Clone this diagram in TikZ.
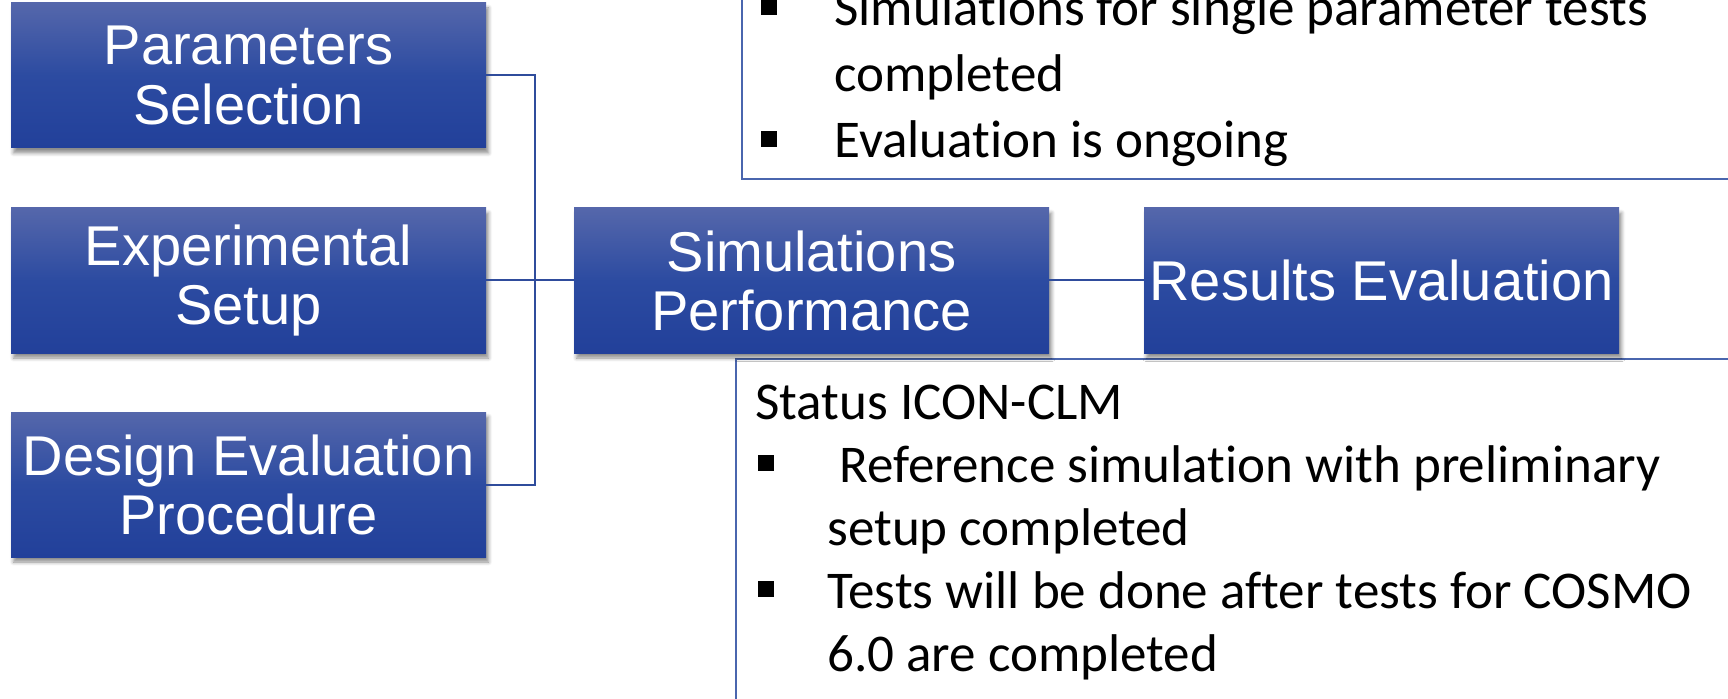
\documentclass[tikz,border=0pt]{standalone}
\usepackage{fontspec}
\setmainfont{Liberation Sans}
\newfontfamily\calibrifont[Ligatures={NoCommon}]{Carlito}
\usetikzlibrary{shadows.blur}

\definecolor{boxtop}{HTML}{5567AB}
\definecolor{boxmid}{HTML}{2C4BA1}
\definecolor{boxbot}{HTML}{22409A}
\definecolor{linkblue}{HTML}{2F4C9C}
\definecolor{frameblue}{HTML}{4A66AE}
\newcommand{\sqbul}{\rule[0.22cm]{0.32cm}{0.32cm}}

\begin{document}
\begin{tikzpicture}[
  stage/.style={rectangle, top color=boxtop, bottom color=boxbot, middle color=boxmid,
                text=white, minimum width=9.5cm, minimum height=2.9cm, inner sep=0pt,
                align=center, font=\fontsize{31.9}{33.6}\selectfont,
                blur shadow={shadow xshift=0.05cm, shadow yshift=-0.1cm,
                             shadow opacity=45, shadow blur steps=5}},
  note/.style={rectangle, draw=frameblue, line width=0.03cm, fill=white, minimum width=22cm},
  txt/.style={inner sep=0pt, anchor=base west, font=\calibrifont\fontsize{30.2}{36}\selectfont},
  link/.style={draw=linkblue, line width=0.04cm},
]
\useasboundingbox (0,0) rectangle (34.56,-13.98);
\clip (0,0) rectangle (34.56,-13.98);

%% status notes
\node[note, anchor=south west, minimum height=5cm] (done) at (14.82,-3.6) {};
\node[note, anchor=north west, minimum height=8cm] (icon) at (14.7,-7.16) {};

% COSMO status
\node[txt] (d1b) at (15.22,-0.52) {\sqbul};
\node[txt] (d1)  at (16.68,-0.52) {Simulations for single parameter tests};
\node[txt] (d2)  at (16.68,-1.84) {completed};
\node[txt] (d3b) at (15.22,-3.16) {\sqbul};
\node[txt] (d3)  at (16.68,-3.16) {Evaluation is ongoing};

% ICON-CLM status
\node[txt] (i0)  at (15.1,-8.38)  {Status ICON-CLM};
\node[txt] (i1b) at (15.16,-9.64) {\sqbul};
\node[txt] (i1)  at (16.54,-9.64) {\ Reference simulation with preliminary};
\node[txt] (i2)  at (16.54,-10.9) {setup completed};
\node[txt] (i3b) at (15.16,-12.16) {\sqbul};
\node[txt] (i3)  at (16.54,-12.16) {Tests will be done after tests for COSMO};
\node[txt] (i4)  at (16.54,-13.42) {6.0 are completed};

%% work stages
\node[stage] (par) at (4.97,-1.51)  {Parameters\\Selection};
\node[stage] (exp) at (4.97,-5.61)  {Experimental\\Setup};
\node[stage] (des) at (4.97,-9.69)  {Design Evaluation\\Procedure};
\node[stage] (sim) at (16.23,-5.61) {Simulations\\Performance};
\node[stage] (res) at (27.63,-5.61) {Results Evaluation};

%% connectors
\coordinate (bus) at (10.7,-5.61);
\draw[link] (par.east) -| (bus) |- (des.east);
\draw[link] (exp.east) -- (sim.west);
\draw[link] (sim.east) -- (res.west);

\end{tikzpicture}
\end{document}
